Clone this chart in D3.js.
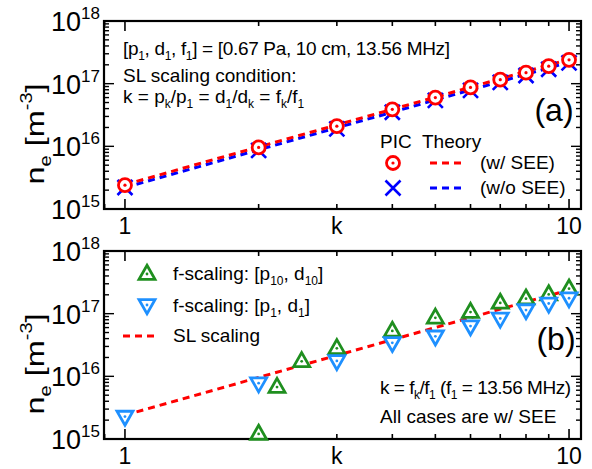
<!DOCTYPE html>
<html>
<head>
<meta charset="utf-8">
<script src="https://cdn.jsdelivr.net/npm/d3@7"></script>
<style>
body { margin: 0; background: #fff; }
text { font-family: "Liberation Sans", Arial, sans-serif; fill: #000; white-space: pre; }
</style>
</head>
<body>
<div id="chart"></div>
<script>
// ---- data ----
const kValues = [1, 2, 3, 4, 5, 6, 7, 8, 9, 10];
// panel (a)
const picWithSEE   = [2.4e15, 9.6e15, 2.1e16, 3.9e16, 6.0e16, 8.7e16, 1.16e17, 1.5e17, 1.9e17, 2.4e17];
const picNoSEE     = [2.2e15, 8.6e15, 1.9e16, 3.5e16, 5.4e16, 7.8e16, 1.05e17, 1.35e17, 1.7e17, 2.15e17];
const theoryWithSEE = [2.45e15, 9.8e15, 2.2e16, 3.9e16, 6.1e16, 8.8e16, 1.2e17, 1.57e17, 1.98e17, 2.45e17];
const theoryNoSEE   = [2.2e15, 8.8e15, 1.98e16, 3.5e16, 5.5e16, 7.9e16, 1.08e17, 1.41e17, 1.78e17, 2.2e17];
// panel (b)
const fScaling10K = [2, 2.2, 2.5, 3, 4, 5, 6, 7, 8, 9, 10];
const fScaling10  = [1.25e15, 7.0e15, 1.8e16, 2.9e16, 5.5e16, 8.9e16, 1.1e17, 1.54e17, 1.8e17, 2.1e17, 2.6e17];
const fScaling1   = [2.2e15, 7.5e15, 1.7e16, 3.3e16, 4.2e16, 6.1e16, 8.1e16, 1.1e17, 1.4e17, 1.7e17];
const slScaling   = [2.4e15, 9.6e15, 2.16e16, 3.84e16, 6.0e16, 8.64e16, 1.18e17, 1.54e17, 1.94e17, 2.4e17];
const yTickExp = [15, 16, 17, 18];

const width = 592, height = 469;
const RED = "#ff0000", BLUE = "#0000ff", GREEN = "#1f8f1f", LBLUE = "#1e90ff";

const svg = d3.select("#chart").append("svg")
    .attr("width", width)
    .attr("height", height);

const x = d3.scaleLog().domain([0.897, 10.64]).range([104, 581]);

// rich text with sub/superscripts: parts = [[str, "n"|"sub"|"sup"], ...]
function richText(g, px, py, parts, size, anchor, fitWidth) {
  const small = Math.round(size * 0.62);
  const t = g.append("text")
      .attr("x", px).attr("y", py)
      .attr("text-anchor", anchor || "start")
      .style("font-size", size + "px");
  if (fitWidth) t.attr("textLength", fitWidth).attr("lengthAdjust", "spacing");
  let shift = 0;
  parts.forEach(p => {
    const target = p[1] === "sub" ? size * 0.28 : p[1] === "sup" ? -size * 0.45 : 0;
    const ts = t.append("tspan").text(p[0]).attr("dy", target - shift);
    if (p[1] !== "n") ts.style("font-size", small + "px");
    shift = target;
  });
  return t;
}

function makePanel(top, bottom) {
  const y = d3.scaleLog().domain([1e15, 1e18]).range([bottom, top]);
  const g = svg.append("g");
  const [x0, x1] = x.range();

  // x ticks, inward on bottom and top
  x.ticks().forEach(v => {
    const major = v === 1 || v === 10;
    const len = major ? 10 : 5;
    g.append("line").attr("x1", x(v)).attr("x2", x(v)).attr("y1", bottom).attr("y2", bottom - len)
        .attr("stroke", "#000").attr("stroke-width", 1.6);
    g.append("line").attr("x1", x(v)).attr("x2", x(v)).attr("y1", top).attr("y2", top + len)
        .attr("stroke", "#000").attr("stroke-width", 1.6);
  });
  // y ticks, inward on left and right
  y.ticks().forEach(v => {
    const e = Math.log10(v);
    const major = Math.abs(e - Math.round(e)) < 1e-9;
    const len = major ? 10 : 5;
    g.append("line").attr("x1", x0).attr("x2", x0 + len).attr("y1", y(v)).attr("y2", y(v))
        .attr("stroke", "#000").attr("stroke-width", 1.4);
    g.append("line").attr("x1", x1).attr("x2", x1 - len).attr("y1", y(v)).attr("y2", y(v))
        .attr("stroke", "#000").attr("stroke-width", 1.4);
  });
  g.append("rect").attr("x", x0).attr("y", top).attr("width", x1 - x0).attr("height", bottom - top)
      .attr("fill", "none").attr("stroke", "#000").attr("stroke-width", 2.2);

  // tick labels
  yTickExp.forEach(e => {
    richText(g, 100, y(Math.pow(10, e)) + 10, [["10", "n"], [String(e), "sup"]], 27, "end");
  });
  [1, 10].forEach(v => {
    g.append("text").attr("x", x(v)).attr("y", bottom + 25).attr("text-anchor", "middle")
        .style("font-size", "23px").text(v);
  });
  g.append("text").attr("x", x(3)).attr("y", bottom + 25).attr("text-anchor", "middle")
      .style("font-size", "23px").text("k");

  const yl = g.append("g")
      .attr("transform", `translate(44,${(top + bottom) / 2 + 19}) rotate(-90) scale(1.25,1)`);
  richText(yl, 0, 0, [["n", "n"], ["e", "sub"], [" [m", "n"], ["-3", "sup"], ["]", "n"]], 26, "middle");
  return { g, y };
}

function dashed(g, xs, ys, y, color) {
  const line = d3.line().x((d, i) => x(xs[i])).y(d => y(d));
  g.append("path").datum(ys).attr("d", line).attr("fill", "none")
      .attr("stroke", color).attr("stroke-width", 3).attr("stroke-dasharray", "7,5");
}
function circleDot(g, cx, cy) {
  g.append("circle").attr("cx", cx).attr("cy", cy).attr("r", 6.5)
      .attr("fill", "#fff").attr("stroke", RED).attr("stroke-width", 2.8);
  g.append("circle").attr("cx", cx).attr("cy", cy).attr("r", 1.6).attr("fill", RED);
}
function cross(g, cx, cy) {
  const s = 7.5;
  g.append("path").attr("d", `M${cx - s},${cy - s}L${cx + s},${cy + s}M${cx - s},${cy + s}L${cx + s},${cy - s}`)
      .attr("stroke", BLUE).attr("stroke-width", 2.6).attr("fill", "none");
}
function triangle(g, cx, cy, up, color) {
  const w = 8, h = 14;
  const d = up
    ? `M${cx},${cy - h * 0.55}L${cx + w},${cy + h * 0.45}L${cx - w},${cy + h * 0.45}Z`
    : `M${cx},${cy + h * 0.55}L${cx + w},${cy - h * 0.45}L${cx - w},${cy - h * 0.45}Z`;
  g.append("path").attr("d", d).attr("fill", "#fff").attr("stroke", color)
      .attr("stroke-width", 2.8).attr("stroke-linejoin", "miter");
  g.append("circle").attr("cx", cx).attr("cy", cy + (up ? 1 : -1)).attr("r", 1.4).attr("fill", color);
}

// ---------- panel (a) ----------
const A = makePanel(21, 209);
dashed(A.g, kValues, theoryNoSEE, A.y, BLUE);
dashed(A.g, kValues, theoryWithSEE, A.y, RED);
picNoSEE.forEach((v, i) => cross(A.g, x(kValues[i]), A.y(v)));
picWithSEE.forEach((v, i) => circleDot(A.g, x(kValues[i]), A.y(v)));

richText(A.g, 123, 55, [["[p", "n"], ["1", "sub"], [", d", "n"], ["1", "sub"], [", f", "n"], ["1", "sub"],
  ["] = [0.67 Pa, 10 cm, 13.56 MHz]", "n"]], 19, "start", 327);
richText(A.g, 123, 82, [["SL scaling condition:", "n"]], 19);
richText(A.g, 123, 103, [["k = p", "n"], ["k", "sub"], ["/p", "n"], ["1", "sub"], [" = d", "n"], ["1", "sub"],
  ["/d", "n"], ["k", "sub"], [" = f", "n"], ["k", "sub"], ["/f", "n"], ["1", "sub"]], 19);
A.g.append("text").attr("x", 554).attr("y", 121).attr("text-anchor", "middle")
    .style("font-size", "32px").text("(a)");

// legend (a)
A.g.append("text").attr("x", 380).attr("y", 148).style("font-size", "19px").text("PIC");
A.g.append("text").attr("x", 422).attr("y", 148).style("font-size", "19px").text("Theory");
circleDot(A.g, 393, 163);
cross(A.g, 393, 188);
A.g.append("line").attr("x1", 430).attr("x2", 464).attr("y1", 163).attr("y2", 163)
    .attr("stroke", RED).attr("stroke-width", 3).attr("stroke-dasharray", "7,5");
A.g.append("line").attr("x1", 430).attr("x2", 464).attr("y1", 188).attr("y2", 188)
    .attr("stroke", BLUE).attr("stroke-width", 3).attr("stroke-dasharray", "7,5");
A.g.append("text").attr("x", 480).attr("y", 169).style("font-size", "19px").text("(w/ SEE)");
A.g.append("text").attr("x", 480).attr("y", 194).style("font-size", "19px").text("(w/o SEE)");

// ---------- panel (b) ----------
const B = makePanel(251, 439);
dashed(B.g, kValues, slScaling, B.y, RED);
fScaling10.forEach((v, i) => triangle(B.g, x(fScaling10K[i]), B.y(v), true, GREEN));
fScaling1.forEach((v, i) => triangle(B.g, x(kValues[i]), B.y(v), false, LBLUE));

B.g.append("text").attr("x", 556).attr("y", 350).attr("text-anchor", "middle")
    .style("font-size", "32px").text("(b)");

// legend (b)
triangle(B.g, 147, 273, true, GREEN);
richText(B.g, 173, 280, [["f-scaling: [p", "n"], ["10", "sub"], [", d", "n"], ["10", "sub"], ["]", "n"]], 19);
triangle(B.g, 147, 306, false, LBLUE);
richText(B.g, 173, 312, [["f-scaling: [p", "n"], ["1", "sub"], [", d", "n"], ["1", "sub"], ["]", "n"]], 19);
B.g.append("line").attr("x1", 123).attr("x2", 158).attr("y1", 336).attr("y2", 336)
    .attr("stroke", RED).attr("stroke-width", 3).attr("stroke-dasharray", "7,5");
B.g.append("text").attr("x", 173).attr("y", 342).style("font-size", "19px").text("SL scaling");

richText(B.g, 380, 394, [["k = f", "n"], ["k", "sub"], ["/f", "n"], ["1", "sub"], [" (f", "n"], ["1", "sub"],
  [" = 13.56 MHz)", "n"]], 19, "start", 191);
B.g.append("text").attr("x", 380).attr("y", 423).style("font-size", "19px").text("All cases are w/ SEE");
</script>
</body>
</html>
